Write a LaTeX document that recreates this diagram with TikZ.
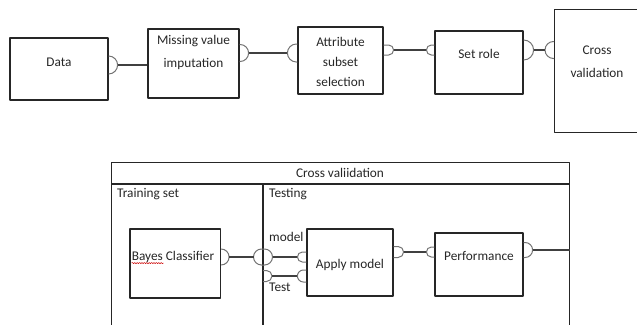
\documentclass[tikz,border=0pt]{standalone}
\usepackage{fontspec}
\setmainfont{Carlito}
\usetikzlibrary{decorations.pathmorphing}

% port glyphs: #1 name of the free end, #2 point on the box edge, #3 half height, #4 width
\newcommand\outport[4]{%
  \draw[portline] (#2) ++(0,-#3) -- ++({#4-#3},0) arc[start angle=90,end angle=-90,radius=#3pt] -- ++({#3-#4},0);
  \coordinate (#1) at ([xshift=#4pt]#2);}
\newcommand\inport[4]{%
  \draw[portline] (#2) ++(0,-#3) -- ++({#3-#4},0) arc[start angle=90,end angle=270,radius=#3pt] -- ++({#4-#3},0);
  \coordinate (#1) at ([xshift=-#4pt]#2);}

\begin{document}
\begin{tikzpicture}[x=1pt,y=-1pt,line join=round,
  font=\fontsize{13.3}{20}\selectfont,
  blk/.style={draw=black!85,line width=1.2pt,inner sep=0pt},
  portline/.style={draw=black!55,line width=1pt},
  wire/.style={draw=black!75,line width=1.1pt},
  lbl/.style={text=black!85,inner sep=0pt,align=center}]
\path[use as bounding box,clip] (0,0) rectangle (637,324);

% main process chain
\node[blk,minimum width=98pt,minimum height=62pt] (data) at (59,69) {};
\node[blk,minimum width=91pt,minimum height=69pt] (miss) at (193.5,63.5) {};
\node[blk,minimum width=85pt,minimum height=67pt] (attr) at (340.5,60.5) {};
\node[blk,minimum width=88pt,minimum height=63pt] (role) at (479,62.5) {};
\node[blk,anchor=north west,minimum width=100pt,minimum height=123pt] (xval) at (554,9) {};
\node[lbl] (dataT) at (59,62) {Data};
\node[lbl] (missT) at (193.5,52) {Missing value\\[3pt]imputation};
\node[lbl] (attrT) at (340.5,62) {Attribute\\subset\\selection};
\node[lbl] (roleT) at (479,54) {Set role};
\node[lbl] (xvalT) at (597,61.5) {Cross\\[3pt]validation};

% ports of the chain
\outport{dataOut}{data.east |- 0,65}{9}{9}
\outport{missOut}{miss.east |- 0,53}{8.5}{9}
\inport{attrIn}{attr.west |- 0,53}{9}{10}
\outport{attrOut}{attr.east |- 0,50}{5}{10}
\inport{roleIn}{role.west |- 0,50}{5}{8}
\outport{roleOut}{role.east |- 0,50}{10}{10}
\inport{xvalIn}{xval.west |- 0,50}{8.5}{9}

\draw[wire] (dataOut) -- (dataOut -| miss.west);
\draw[wire] (missOut) -- (attrIn);
\draw[wire] (attrOut) -- (roleIn);
\draw[wire] (roleOut) -- (xvalIn);

% inside of the cross validation operator
\node[blk,anchor=north west,minimum width=458pt,minimum height=200pt] (cv) at (111,162) {};
\draw[blk] ([yshift=-22pt]cv.north west) -- ([yshift=-22pt]cv.north east);
\coordinate (div) at (263,184);
\draw[blk] (div) -- (div |- cv.south);
\node[lbl] (cvT) at (340,173) {Cross valiidation};
\node[lbl,anchor=west] (trainT) at (117,194) {Training set};
\node[lbl,anchor=west] (testT) at (269,194) {Testing};

\node[blk,minimum width=90.5pt,minimum height=69pt] (bayes) at (175.25,263.5) {};
\node[blk,minimum width=86pt,minimum height=67pt] (apply) at (350,262.5) {};
\node[blk,minimum width=88pt,minimum height=63pt] (perf) at (479,264.5) {};
\node[lbl] (bayesT) at (173,257) {Bayes Classifier};
\node[lbl] (applyT) at (350,265) {Apply model};
\node[lbl] (perfT) at (479,256) {Performance};
\node[lbl,anchor=west] (modelT) at (269,237) {model};
\node[lbl,anchor=west] (testL) at (269,287) {Test};
\draw[red!80!black,line width=0.5pt,decorate,decoration={snake,amplitude=0.6pt,segment length=2.4pt}]
  ([yshift=-2.5pt]bayesT.base west) -- ++(32,0);

% ports inside
\outport{bayesOut}{bayes.east |- 0,257}{8}{8}
\inport{splitIn}{div |- 0,257}{8}{9.5}
\outport{splitOut}{div |- 0,257}{8}{9.5}
\outport{testOut}{div |- 0,276}{5.5}{9}
\inport{applyIn}{apply.west |- 0,257}{5}{9}
\inport{applyTest}{apply.west |- 0,276}{6}{9}
\outport{applyOut}{apply.east |- 0,252}{5.5}{10}
\inport{perfIn}{perf.west |- 0,252}{5}{8}
\outport{perfOut}{perf.east |- 0,250}{7.5}{9}

\draw[wire] (bayesOut) -- (splitIn);
\draw[wire] (splitOut) -- (applyIn);
\draw[wire] (testOut) -- (applyTest);
\draw[wire] (applyOut) -- (perfIn);
\draw[wire] (perfOut) -- (perfOut -| cv.east);
\end{tikzpicture}
\end{document}
